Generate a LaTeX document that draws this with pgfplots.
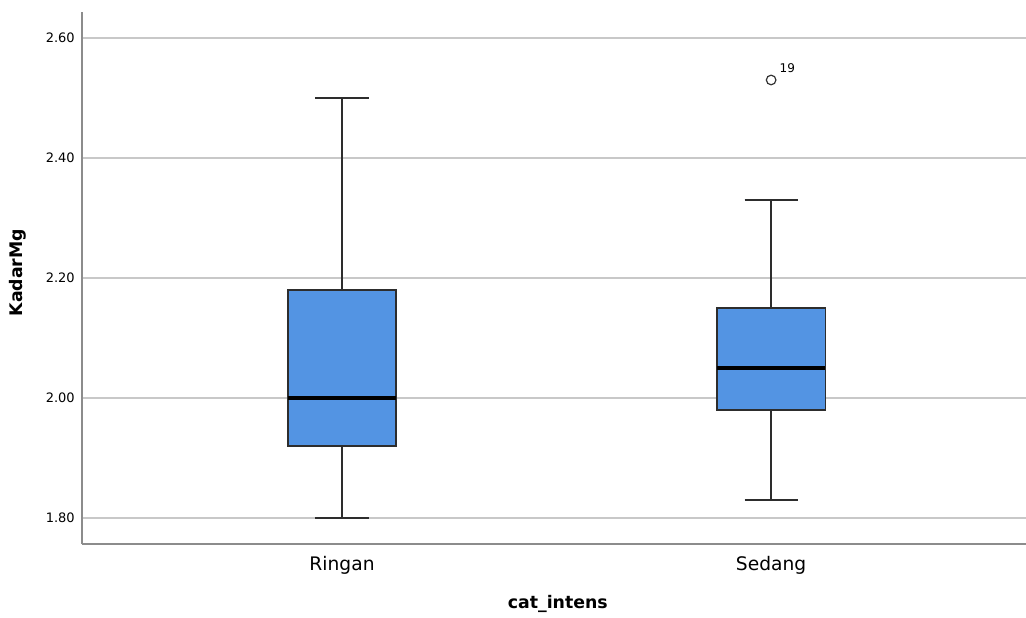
\documentclass[border=0pt]{standalone}
\usepackage{pgfplots}
\pgfplotsset{compat=1.18}
\usepgfplotslibrary{statistics}
\usepackage{fontspec}
\setmainfont{DejaVu Sans}
\definecolor{boxblue}{RGB}{83,148,227}
\definecolor{boxdark}{RGB}{45,45,45}
\definecolor{axgray}{RGB}{140,140,140}
\definecolor{gridgray}{RGB}{200,200,200}
\begin{document}
\begin{tikzpicture}
\begin{axis}[
  name=ax,
  scale only axis, width=708pt, height=399pt,
  xmin=0.394, xmax=2.594,
  ymin=1.7567, ymax=2.6433,
  boxplot/draw direction=y,
  boxplot/every whisker/.style={draw=boxdark, line width=1.1pt},
  boxplot/every box/.style={draw=boxdark, fill=boxblue, line width=0.9pt},
  axis x line*=bottom, axis y line*=left,
  axis line style={axgray, line width=0.9pt, -},
  xtick={1,2}, xticklabels={Ringan,Sedang},
  ytick={1.8,2.0,2.2,2.4,2.6},
  yticklabels={1.80,2.00,2.20,2.40,2.60},
  major tick length=0pt,
  ymajorgrids, major grid style={gridgray, line width=0.9pt},
  yticklabel style={font=\fontsize{9.75}{12}\selectfont, anchor=east, inner sep=0pt, xshift=-5.25pt},
  xticklabel style={font=\fontsize{14}{16}\selectfont, anchor=base, inner sep=0pt, yshift=-20pt},
  xlabel={cat\_intens}, ylabel={KadarMg},
  label style={font=\bfseries\fontsize{13}{15}\selectfont},
  xlabel style={at={(axis description cs:0.504,0)}, anchor=base, inner sep=0pt, yshift=-48pt},
  ylabel style={at={(axis description cs:-0.0678,0.51)}, anchor=center, inner sep=0pt},
  clip=false,
]
\addplot[boxplot prepared={draw position=1, lower whisker=1.80, lower quartile=1.92,
  median=2.00, upper quartile=2.18, upper whisker=2.50, box extend=0.252, whisker extend=0.124},
  draw=boxdark, fill=boxblue, solid] coordinates {};
\addplot[boxplot prepared={draw position=2, lower whisker=1.83, lower quartile=1.98,
  median=2.05, upper quartile=2.15, upper whisker=2.33, box extend=0.252, whisker extend=0.124},
  draw=boxdark, fill=boxblue, solid] coordinates {};
% medians, drawn thicker as in the reference
\addplot[black, line width=2.3pt, no markers] coordinates {(0.874,2.00) (1.126,2.00)};
\addplot[black, line width=2.3pt, no markers] coordinates {(1.874,2.05) (2.126,2.05)};
\addplot[only marks, mark=o, mark size=3.6pt, draw=black!80, line width=0.9pt,
  nodes near coords, point meta=explicit symbolic,
  nodes near coords style={font=\fontsize{9}{11}\selectfont, anchor=base west, inner sep=0pt, xshift=6pt, yshift=5.25pt, black}]
  coordinates {(2,2.53) [19]};
\end{axis}
\pgfresetboundingbox
\path[use as bounding box] ([xshift=-61.5pt,yshift=-54.75pt]ax.south west) rectangle ([yshift=9pt]ax.north east);
\end{tikzpicture}
\end{document}
